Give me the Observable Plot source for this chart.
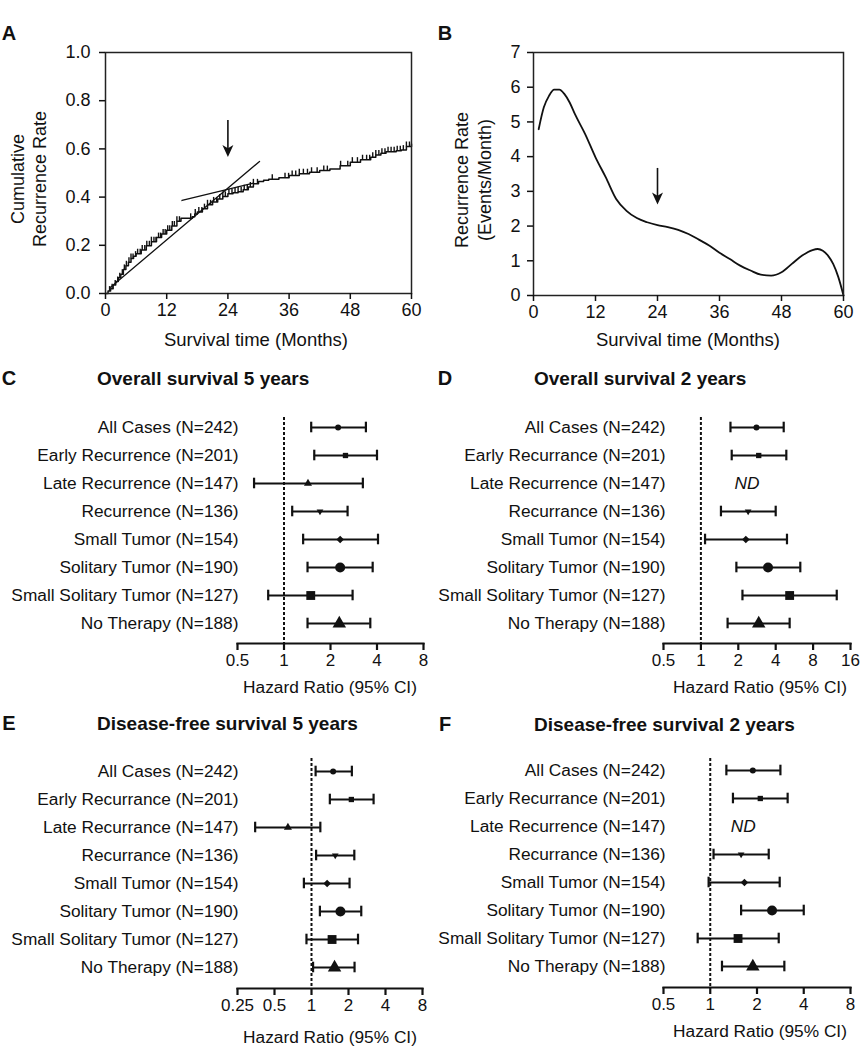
<!DOCTYPE html>
<html><head><meta charset="utf-8">
<script src="https://cdn.jsdelivr.net/npm/d3@7"></script>
<script src="https://cdn.jsdelivr.net/npm/@observablehq/plot@0.6"></script>
<style>
body{margin:0;background:#fff;}
#root{position:relative;width:860px;height:1050px;font-family:"Liberation Sans",Arial,sans-serif;color:#111;overflow:hidden}
.p{position:absolute}
.t{position:absolute;white-space:nowrap;line-height:1}
</style></head><body><div id="root"></div>
<script>
// ---------- Panel A: cumulative recurrence (Kaplan-Meier style) ----------
const monthTicks = [0, 12, 24, 36, 48, 60];
const cumTicks = [0, 0.2, 0.4, 0.6, 0.8, 1.0];
const stepT = [0,0.5,1,1.5,2,2.5,3,3.5,4,4.5,5,5.5,6,7,8,9,10,11,12,13,14,14.8,17,17.5,18,19,20,21,22,23,24,25,26,27,28,29,30,31,32,34,36,38,40,42,44,46,48,50,52,53,54,55,57,58,59,60];
const stepY = [0,0.01,0.02,0.035,0.05,0.065,0.08,0.1,0.115,0.13,0.145,0.155,0.165,0.18,0.198,0.215,0.232,0.247,0.262,0.28,0.3,0.312,0.318,0.33,0.338,0.352,0.368,0.38,0.392,0.403,0.414,0.418,0.422,0.43,0.442,0.455,0.465,0.47,0.474,0.48,0.49,0.497,0.503,0.51,0.517,0.53,0.545,0.555,0.565,0.575,0.582,0.588,0.592,0.595,0.61,0.62];
const censorT = [0.8,1.3,1.9,2.4,2.8,3.3,3.7,4.1,4.6,5.0,5.4,5.9,6.3,6.8,7.2,7.7,8.1,8.6,9.0,9.5,9.9,10.4,10.8,11.3,11.7,12.2,12.6,13.1,13.5,14.0,14.5,16.7,17.6,18.3,18.9,19.4,20.0,20.6,21.2,21.8,22.4,23.0,23.5,24.2,24.8,25.4,26.0,26.6,27.2,27.8,28.4,29.0,29.8,32.7,35.2,35.9,36.6,37.3,38.0,38.8,39.6,40.4,41.5,42.8,43.5,46.1,47.5,48.4,49.4,50.4,51.2,51.8,52.4,53.0,53.6,54.2,54.8,55.4,56.0,56.6,57.2,57.8,58.4,59.0,59.6];
const tangentEarlyT = [1, 30.2], tangentEarlyY = [0.026, 0.548];
const tangentLateT = [15, 29], tangentLateY = [0.386, 0.458];
const arrowAX = [24], arrowATop = [0.718], arrowATip = [0.566];

// ---------- Panel B: recurrence hazard rate ----------
const rateTicks = [0,1,2,3,4,5,6,7];
const hazT = [1,2,3,4,5,6,7,8,10,12,14,16,18,20,22,24,26,28,30,32,34,36,38,40,42,44,46,48,50,52,54,55,56,57,58,59,60];
const hazY = [4.79,5.42,5.75,5.93,5.93,5.80,5.56,5.23,4.65,3.98,3.40,2.78,2.44,2.23,2.11,2.03,1.97,1.89,1.77,1.61,1.44,1.23,1.05,0.86,0.72,0.60,0.575,0.67,0.91,1.15,1.31,1.34,1.29,1.15,0.91,0.53,0];
const arrowBX = [24], arrowBTop = [3.66], arrowBTip = [2.62];

// ---------- Forest plots ----------
const labelsC = ["All Cases (N=242)","Early Recurrence (N=201)","Late Recurrence (N=147)","Recurrence (N=136)","Small Tumor (N=154)","Solitary Tumor (N=190)","Small Solitary Tumor (N=127)","No Therapy (N=188)"];
const hrC = [2.24,2.50,1.43,1.71,2.31,2.31,1.49,2.28];
const loC = [1.50,1.57,0.64,1.13,1.33,1.42,0.79,1.42];
const hiC = [3.39,4.00,3.24,2.58,4.06,3.75,2.78,3.62];

const labelsD = ["All Cases (N=242)","Early Recurrance (N=201)","Late Recurrence (N=147)","Recurrance (N=136)","Small Tumor (N=154)","Solitary Tumor (N=190)","Small Solitary Tumor (N=127)","No Therapy (N=188)"];
const hrD = [2.80,2.92,null,2.40,2.30,3.47,5.18,2.92];
const loD = [1.73,1.77,null,1.45,1.08,1.93,2.16,1.64];
const hiD = [4.64,4.87,null,4.00,4.93,6.31,12.4,5.18];

const labelsE = ["All Cases (N=242)","Early Recurrance (N=201)","Late Recurrance (N=147)","Recurrance (N=136)","Small Tumor (N=154)","Solitary Tumor (N=190)","Small Solitary Tumor (N=127)","No Therapy (N=188)"];
const hrE = [1.50,2.11,0.643,1.56,1.34,1.72,1.47,1.54];
const loE = [1.08,1.41,0.348,1.09,0.867,1.17,0.91,1.03];
const hiE = [2.13,3.20,1.18,2.23,2.04,2.54,2.39,2.24];

const labelsF = ["All Cases (N=242)","Early Recurrance (N=201)","Late Recurrence (N=147)","Recurrance (N=136)","Small Tumor (N=154)","Solitary Tumor (N=190)","Small Solitary Tumor (N=127)","No Therapy (N=188)"];
const hrF = [1.88,2.10,null,1.58,1.66,2.50,1.51,1.88];
const loF = [1.27,1.40,null,1.05,0.976,1.58,0.83,1.19];
const hiF = [2.83,3.15,null,2.38,2.80,4.00,2.76,3.00];

const ticksC = [0.5,1,2,4,8];
const ticksD = [0.5,1,2,4,8,16];
const ticksE = [0.25,0.5,1,2,4,8];
const ticksF = [0.5,1,2,4,8];
const ndPosD = 2.35, ndPosF = 1.63;

// ---------- marker shapes ----------
const triDown = {draw(ctx, size){const r=Math.sqrt(size/Math.PI);ctx.moveTo(0,r*1.2);ctx.lineTo(r*1.05,-r*0.65);ctx.lineTo(-r*1.05,-r*0.65);ctx.closePath();}};
const arrowHead = {draw(ctx, size){const r=Math.sqrt(size/Math.PI);ctx.moveTo(0,0);ctx.lineTo(-r,-2.2*r);ctx.lineTo(0,-1.6*r);ctx.lineTo(r,-2.2*r);ctx.closePath();}};
const censorTick = {draw(ctx, size){const r=Math.sqrt(size/Math.PI);ctx.moveTo(0,0);ctx.lineTo(0,-r);}};
const markerShapes = ["circle","square","triangle",triDown,"diamond2","circle","square","triangle"];
const markerSizes = [3,3,3,3.2,3.4,5,5,5];

const root = document.getElementById("root");
const FONT = "Liberation Sans, Arial, sans-serif";
function place(svg, left, top){const d=document.createElement("div");d.className="p";d.style.left=left+"px";d.style.top=top+"px";d.appendChild(svg);root.appendChild(d);}
function txt(s, x, y, {size=18, bold=false, italic=false, rot=false, anchor="middle"}={}){
  const d=document.createElement("div");d.className="t";d.textContent=s;
  d.style.left=x+"px";d.style.top=y+"px";d.style.fontSize=size+"px";
  if(bold) d.style.fontWeight="bold"; if(italic) d.style.fontStyle="italic";
  const tx = anchor==="start"?"0":"-50%";
  d.style.transform=`translate(${tx},-50%)`+(rot?" rotate(-90deg)":"");
  root.appendChild(d);
}

const INK = "#111";

// ---------- Panel A ----------
const stepData = stepT.map((t,i)=>({t, v: stepY[i]}));
const censorData = censorT.map(t=>({t, v: stepY[d3.bisectRight(stepT, t)-1]}));
const plotA = Plot.plot({
  width: 430, height: 350, marginLeft: 105, marginRight: 19, marginTop: 52, marginBottom: 57,
  style: {fontFamily: FONT, fontSize: "18px", color: INK, background: "transparent", overflow: "visible"},
  x: {domain: [0, 60]}, y: {domain: [0, 1]},
  marks: [
    Plot.line(stepData, {x: "t", y: "v", curve: "step-after", stroke: INK, strokeWidth: 1.5}),
    Plot.dot(censorData, {x: "t", y: "v", symbol: censorTick, r: 5, stroke: INK, strokeWidth: 1.4, fill: "none"}),
    Plot.line(tangentEarlyT.map((t,i)=>({t, v: tangentEarlyY[i]})), {x: "t", y: "v", stroke: INK, strokeWidth: 1.3}),
    Plot.line(tangentLateT.map((t,i)=>({t, v: tangentLateY[i]})), {x: "t", y: "v", stroke: INK, strokeWidth: 1.3}),
    Plot.ruleX(arrowAX.map((x,i)=>({x, y1: arrowATop[i], y2: arrowATip[i] + 0.03})), {x: "x", y1: "y1", y2: "y2", stroke: INK, strokeWidth: 1.6}),
    Plot.dot(arrowAX.map((x,i)=>({x, y: arrowATip[i]})), {x: "x", y: "y", symbol: arrowHead, r: 5.5, fill: INK, stroke: "none"}),
    Plot.frame({stroke: "#222", strokeWidth: 1.5}),
    Plot.axisX({ticks: monthTicks, tickSize: 6, tickPadding: 4, label: null, fontSize: 18, strokeWidth: 1.5}),
    Plot.axisY({ticks: cumTicks, tickFormat: d3.format(".1f"), tickSize: 6, tickPadding: 9, label: null, fontSize: 18, strokeWidth: 1.5})
  ]
});
place(plotA, 0, 0);

// ---------- Panel B ----------
const hazData = hazT.map((t,i)=>({t, r: hazY[i]}));
const plotB = Plot.plot({
  width: 430, height: 350, marginLeft: 103, marginRight: 17, marginTop: 52, marginBottom: 55,
  style: {fontFamily: FONT, fontSize: "18px", color: INK, background: "transparent", overflow: "visible"},
  x: {domain: [0, 60]}, y: {domain: [0, 7]},
  marks: [
    Plot.line(hazData, {x: "t", y: "r", curve: "monotone-x", stroke: INK, strokeWidth: 1.8}),
    Plot.ruleX(arrowBX.map((x,i)=>({x, y1: arrowBTop[i], y2: arrowBTip[i] + 0.2})), {x: "x", y1: "y1", y2: "y2", stroke: INK, strokeWidth: 1.6}),
    Plot.dot(arrowBX.map((x,i)=>({x, y: arrowBTip[i]})), {x: "x", y: "y", symbol: arrowHead, r: 5.5, fill: INK, stroke: "none"}),
    Plot.frame({stroke: "#222", strokeWidth: 1.5}),
    Plot.axisX({ticks: monthTicks, tickSize: 6, tickPadding: 4, label: null, fontSize: 18, strokeWidth: 1.5}),
    Plot.axisY({ticks: rateTicks, tickFormat: d => String(d), tickSize: 6, tickPadding: 7, label: null, fontSize: 18, strokeWidth: 1.5})
  ]
});
place(plotB, 430, 0);

// ---------- forest builder ----------
function forest({labels, hr, lo, hi, xDomain, xTicks, marginLeft, marginRight, marginTop, marginBottom, height, yRange, ndPos, dx}){
  const rows = labels.map((label,i)=>({label, hr: hr[i], lo: lo[i], hi: hi[i], i}));
  const valid = rows.filter(r => r.hr != null);
  const nd = rows.filter(r => r.hr == null);
  const marks = [
    Plot.ruleX([1], {stroke: INK, strokeWidth: 2, strokeDasharray: "3,2"}),
    Plot.ruleY(valid, {y: "label", x1: "lo", x2: "hi", stroke: INK, strokeWidth: 2.2}),
    Plot.tickX(valid, {x: "lo", y: "label", stroke: INK, strokeWidth: 2.2, insetTop: 8.7, insetBottom: 8.7}),
    Plot.tickX(valid, {x: "hi", y: "label", stroke: INK, strokeWidth: 2.2, insetTop: 8.7, insetBottom: 8.7}),
    ...valid.map(r => Plot.dot([r], {x: "hr", y: "label", symbol: markerShapes[r.i], r: markerSizes[r.i], fill: INK, stroke: "none"})),
    Plot.frame({anchor: "bottom", stroke: INK, strokeWidth: 2.2}),
    Plot.axisX({ticks: xTicks, tickFormat: d => String(d), tickSize: 7, tickPadding: 3, label: null, fontSize: 17, strokeWidth: 2.2}),
    Plot.axisY({tickSize: 0, tickPadding: 0, dx, label: null, fontSize: 17.3})
  ];
  if (nd.length) marks.push(Plot.text(nd, {x: () => ndPos, y: "label", text: () => "ND", fontStyle: "italic", fontSize: 17.3, fill: INK}));
  return Plot.plot({
    width: 430, height, marginLeft, marginRight, marginTop, marginBottom,
    style: {fontFamily: FONT, fontSize: "17px", color: INK, background: "transparent", overflow: "visible"},
    x: {type: "log", base: 2, domain: xDomain},
    y: {type: "band", domain: labels, range: yRange, padding: 0},
    marks
  });
}

place(forest({labels: labelsC, hr: hrC, lo: loC, hi: hiC, xDomain: [0.5, 8], xTicks: ticksC,
  marginLeft: 237, marginRight: 7, marginTop: 17, marginBottom: 37, height: 280, yRange: [11.8, 239.2], dx: 1}), 0, 400);
place(forest({labels: labelsD, hr: hrD, lo: loD, hi: hiD, xDomain: [0.5, 16], xTicks: ticksD,
  marginLeft: 233, marginRight: 10, marginTop: 17, marginBottom: 37, height: 280, yRange: [11.8, 239.2], ndPos: ndPosD, dx: 2}), 430, 400);
place(forest({labels: labelsE, hr: hrE, lo: loE, hi: hiE, xDomain: [0.25, 8], xTicks: ticksE,
  marginLeft: 237, marginRight: 8, marginTop: 18, marginBottom: 32, height: 280, yRange: [15.9, 242.1], dx: 1}), 0, 740);
place(forest({labels: labelsF, hr: hrF, lo: loF, hi: hiF, xDomain: [0.5, 8], xTicks: ticksF,
  marginLeft: 233, marginRight: 10, marginTop: 18, marginBottom: 33, height: 280, yRange: [15.9, 241.1], ndPos: ndPosF, dx: 2}), 430, 740);

// ---------- text ----------
txt("A", 9, 33, {size: 20, bold: true});
txt("B", 445, 33, {size: 20, bold: true});
txt("C", 9, 378, {size: 20, bold: true});
txt("D", 445, 378, {size: 20, bold: true});
txt("E", 9, 723, {size: 20, bold: true});
txt("F", 445, 724, {size: 20, bold: true});

txt("Cumulative", 18, 179, {size: 18, rot: true});
txt("Recurrence Rate", 40, 179, {size: 18, rot: true});
txt("Recurrence Rate", 462, 180, {size: 18, rot: true});
txt("(Events/Month)", 485, 180, {size: 18, rot: true});
txt("Survival time (Months)", 256, 340, {size: 18.5});
txt("Survival time (Months)", 688, 340, {size: 18.5});

txt("Overall survival 5 years", 97, 378, {size: 19, bold: true, anchor: "start"});
txt("Overall survival 2 years", 534, 378, {size: 19, bold: true, anchor: "start"});
txt("Disease-free survival 5 years", 97, 723, {size: 19, bold: true, anchor: "start"});
txt("Disease-free survival 2 years", 534, 724, {size: 19, bold: true, anchor: "start"});

txt("Hazard Ratio (95% CI)", 330, 688, {size: 17.3});
txt("Hazard Ratio (95% CI)", 760, 688, {size: 17.3});
txt("Hazard Ratio (95% CI)", 330, 1038, {size: 17.3});
txt("Hazard Ratio (95% CI)", 760, 1032, {size: 17.3});
</script></body></html>
